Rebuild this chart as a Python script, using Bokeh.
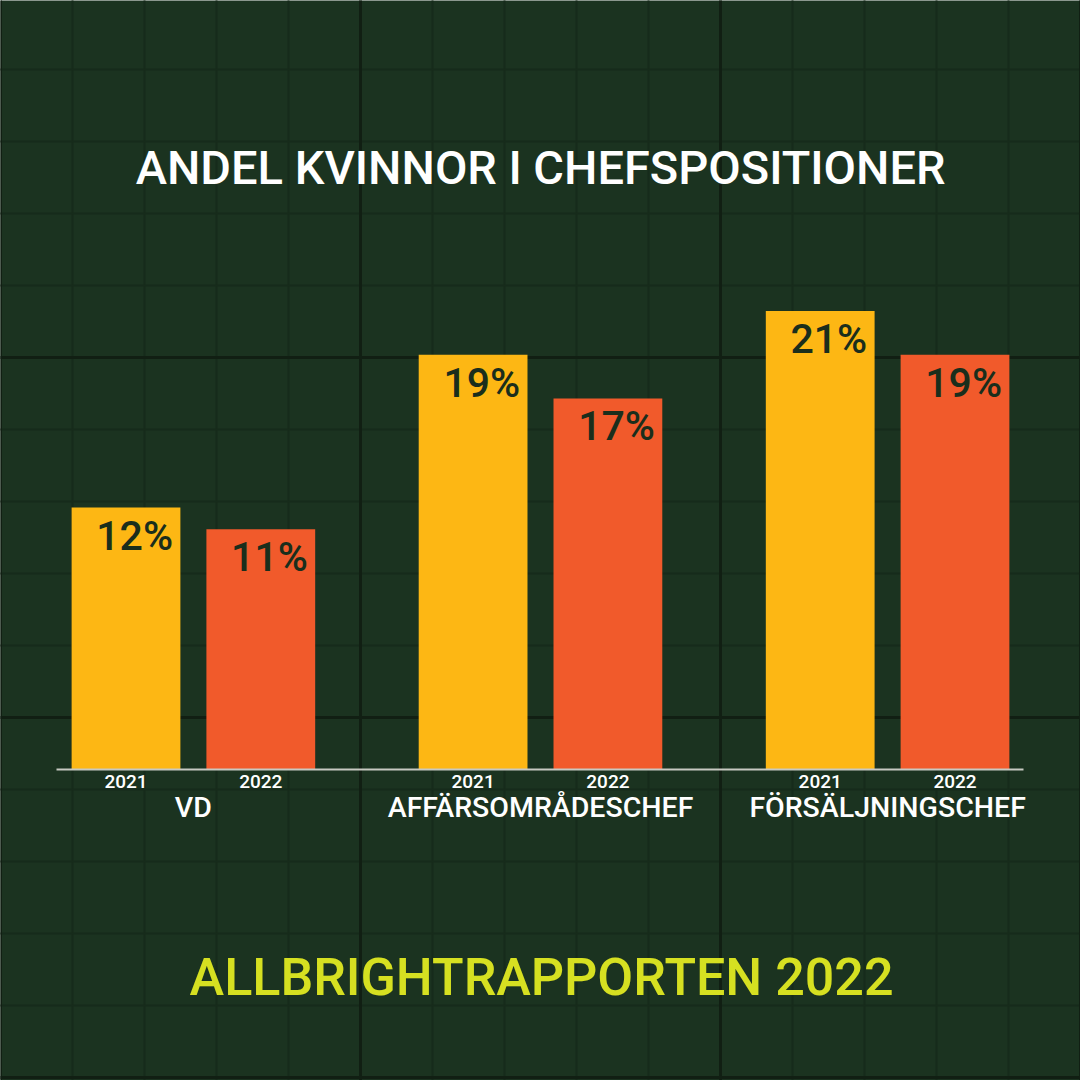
from bokeh.plotting import figure
from bokeh.models import FactorRange, Range1d, ColumnDataSource
from bokeh.core.properties import value
from bokeh.embed import file_html
from bokeh.resources import INLINE

# ---- data ----
categories = ["VD", "AFFÄRSOMRÅDESCHEF", "FÖRSÄLJNINGSCHEF"]
years = ["2021", "2022"]
values_2021 = [12, 19, 21]
values_2022 = [11, 17, 19]
title_text = "ANDEL KVINNOR I CHEFSPOSITIONER"
footer_text = "ALLBRIGHTRAPPORTEN 2022"

# ---- styles ----
BG = "#1b3320"
GRID_THIN = "#162b1b"
GRID_THICK = "#111f13"
YELLOW = "#fdb714"
ORANGE = "#f15a2b"
LABEL_DARK = "#1a2e1c"
FOOTER = "#d6e021"
FONT = value("Roboto Medium")

W = H = 1080
GROUP_PAD = 0.575
RANGE_PAD = 0.431

factors = [(c, y) for c in categories for y in years]
vals = []
for a, b in zip(values_2021, values_2022):
    vals += [a, b]
colors = [YELLOW if f[1] == "2021" else ORANGE for f in factors]
labels = [f"{v}%" for v in vals]

src = ColumnDataSource(dict(x=factors, top=vals, color=colors, label=labels))

x_range = FactorRange(*factors, factor_padding=0.0, group_padding=GROUP_PAD,
                      range_padding=RANGE_PAD, range_padding_units="absolute")
y_range = Range1d(-14.25, 35.23)

p = figure(width=W, height=H, x_range=x_range, y_range=y_range,
           output_backend="svg", toolbar_location=None,
           x_axis_location=None, y_axis_location=None,
           min_border=0, background_fill_color=BG, border_fill_color=BG,
           outline_line_color=None)
p.grid.visible = False

# vertical pixel-like range (top-down) for decoration
p.extra_y_ranges = {"px": Range1d(H, 0)}

# horizontal decoration positions converted to the categorical axis' synthetic units
TOTAL = len(factors) + (len(categories) - 1) * GROUP_PAD + 2 * RANGE_PAD


def sx(px):
    return -RANGE_PAD + px * TOTAL / W


thin_x = [sx(v) for v in [72, 144, 216, 288, 432, 504, 576, 648, 792, 864, 936, 1008]]
thick_x = [sx(v) for v in [0, 360, 720, 1080]]
thin_y = [69, 141, 213, 285, 429, 501, 573, 645, 789, 861, 933, 1005]
thick_y = [-3, 357, 717, 1077]
LEFT, RIGHT = sx(-20), sx(1100)

p.segment(x0=thin_x, x1=thin_x, y0=[-10] * len(thin_x), y1=[1090] * len(thin_x),
          line_color=GRID_THIN, line_width=2, y_range_name="px")
p.segment(x0=[LEFT] * len(thin_y), x1=[RIGHT] * len(thin_y), y0=thin_y, y1=thin_y,
          line_color=GRID_THIN, line_width=2, y_range_name="px")
p.segment(x0=thick_x, x1=thick_x, y0=[-10] * len(thick_x), y1=[1090] * len(thick_x),
          line_color=GRID_THICK, line_width=3, y_range_name="px")
p.segment(x0=[LEFT] * len(thick_y), x1=[RIGHT] * len(thick_y), y0=thick_y, y1=thick_y,
          line_color=GRID_THICK, line_width=3, y_range_name="px")

# bars
p.vbar(x="x", top="top", bottom=0, width=0.807, fill_color="color",
       line_color=None, source=src)

# baseline
p.segment(x0=[sx(56)], x1=[sx(1023)], y0=[0], y1=[0], line_color="#c8c9c2",
          line_width=2)

# value labels inside bars
p.text(x="x", y="top", text="label", source=src, text_font=FONT,
       text_font_size="41px", text_color=LABEL_DARK, text_align="right",
       text_baseline="alphabetic", x_offset=47, y_offset=28)

# year labels
ysrc = ColumnDataSource(dict(x=factors, y=[0] * len(factors), t=[f[1] for f in factors]))
p.text(x="x", y="y", text="t", source=ysrc, text_font=FONT, text_font_size="19px",
       text_color="white", text_align="center", text_baseline="alphabetic", y_offset=12)

# category labels
csrc = ColumnDataSource(dict(x=categories, y=[0] * len(categories), t=categories))
p.text(x="x", y="y", text="t", source=csrc, text_font=FONT, text_font_size="28.5px",
       text_color="white", text_align="center", text_baseline="alphabetic", y_offset=38)

# title and footer
p.text(x=[sx(540)], y=[167], text=[title_text], text_font=FONT, text_font_size="47px",
       text_color="white", text_align="center", text_baseline="alphabetic",
       y_range_name="px")
p.text(x=[sx(541)], y=[977], text=[footer_text], text_font=FONT, text_font_size="52px",
       text_color=FOOTER, text_align="center", text_baseline="alphabetic",
       y_range_name="px")

open("out.html", "w").write(file_html(p, INLINE))
